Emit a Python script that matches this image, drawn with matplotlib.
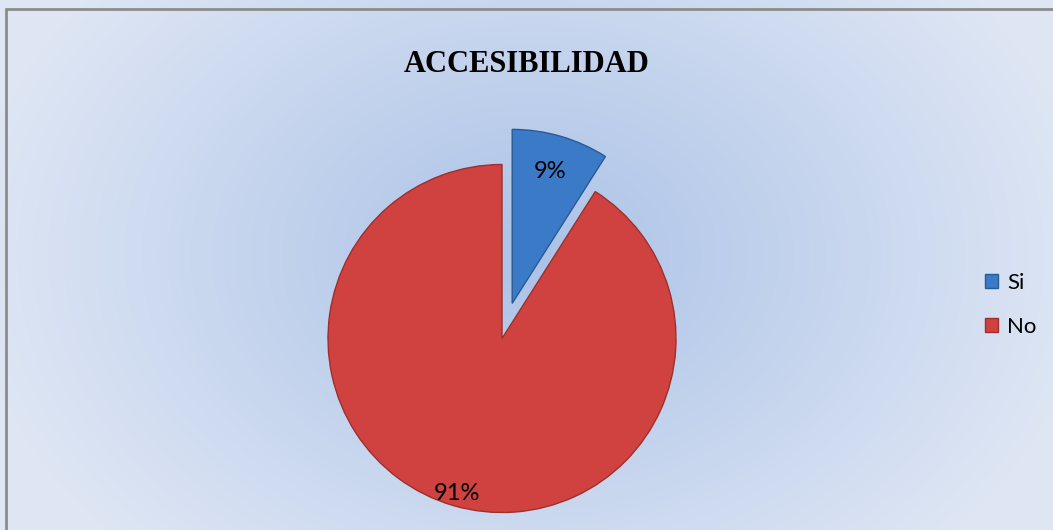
import numpy as np
import matplotlib
matplotlib.use("Agg")
import matplotlib.pyplot as plt

# ---- data ----
categories = ["Si", "No"]
values = [9, 91]
labels_pct = ["9%", "91%"]
title = "ACCESIBILIDAD"

W, H = 1053, 530
fig = plt.figure(figsize=(W / 100, H / 100), dpi=100)

# background radial gradient
bg = fig.add_axes([0, 0, 1, 1], zorder=0)
bg.set_axis_off()
yy, xx = np.mgrid[0:H, 0:W]
cx, cy = 530, 255
r = np.sqrt(((xx - cx) / 560.0) ** 2 + ((yy - cy) / 420.0) ** 2)
r = np.clip(r, 0, 1)
c_in = np.array([0xAB, 0xC2, 0xE7]) / 255.0
c_out = np.array([0xDE, 0xE6, 0xF4]) / 255.0
img = c_in[None, None, :] * (1 - r[..., None]) + c_out[None, None, :] * r[..., None]
bg.imshow(img, extent=[0, W, H, 0], aspect="auto")
bg.set_xlim(0, W)
bg.set_ylim(H, 0)
# frame (top and left visible)
bg.plot([6, 6, W], [H, 9, 9], color="#8c8c8c", lw=2.0, solid_joinstyle="miter")

# pie axes: center (502, 338.5), radius 174 px
R = 174.0
s = 1.4
cxp, cyp = 502.0, 338.5
side = 2 * s * R
ax = fig.add_axes([(cxp - s * R) / W, (H - cyp - s * R) / H, side / W, side / H], zorder=1)
ax.set_axis_off()

colors = ["#3b7ac6", "#cf423f"]
edges = ["#2a5a96", "#9e2f2c"]
wedges, texts, autotexts = ax.pie(
    values, startangle=90, counterclock=False, colors=colors,
    explode=[0.21, 0], radius=1.0,
    autopct=lambda p: "", pctdistance=0.8,
    wedgeprops=dict(linewidth=1.0),
)
for w, e in zip(wedges, edges):
    w.set_edgecolor(e)
    w.set_clip_on(False)
ax.set_xlim(-s, s)
ax.set_ylim(-s, s)
ax.set_aspect("equal")

# percentage labels
pct_dist = [0.79, 0.93]
for w, lab, d in zip(wedges, labels_pct, pct_dist):
    ang = np.deg2rad((w.theta1 + w.theta2) / 2)
    c = w.center
    ax.text(c[0] + d * np.cos(ang), c[1] + d * np.sin(ang), lab,
            ha="center", va="center", fontsize=17, family="Lato", color="black")

fig.text(527 / W, 1 - 64 / H, title, ha="center", va="center",
         fontsize=22, fontweight="bold", family="Liberation Serif")

leg = fig.legend(wedges, categories, loc="center left",
                 bbox_to_anchor=(965 / W, 1 - 305 / H), frameon=False,
                 prop=dict(family="Lato", size=16), handlelength=0.6,
                 handleheight=0.6, handletextpad=0.4, labelspacing=1.1)

fig.savefig("out.png", dpi=100)
